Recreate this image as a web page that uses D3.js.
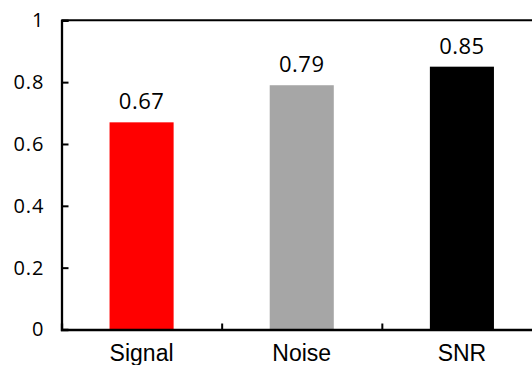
<!DOCTYPE html>
<html>
<head>
<meta charset="utf-8">
<script src="https://cdn.jsdelivr.net/npm/d3@7"></script>
<style>
  html, body { margin: 0; padding: 0; background: #fff; }
  svg { display: block; }
</style>
</head>
<body>
<svg id="chart" width="532" height="365"></svg>
<script>
// Chart data
const categories = ["Signal", "Noise", "SNR"];
const values = [0.67, 0.79, 0.85];
const barColors = ["#FF0000", "#A6A6A6", "#000000"];
const yTickValues = [0, 0.2, 0.4, 0.6, 0.8, 1];
const yTickLabels = ["0", "0.2", "0.4", "0.6", "0.8", "1"];

const svg = d3.select("#chart");

// Plot frame (the right edge lies beyond the visible area)
const plotLeft = 61.5, plotRight = 542, plotTop = 20.3, plotBottom = 329.5;

const x = d3.scaleBand()
  .domain(categories)
  .range([plotLeft, plotRight])
  .paddingInner(0.6)
  .paddingOuter(0.3);

const y = d3.scaleLinear().domain([0, 1]).range([plotBottom, plotTop]);

// Category boundaries for the x-axis tick marks
const xEdge = d3.scaleLinear().domain([0, categories.length]).range([plotLeft, plotRight]);

// Bars
svg.append("g")
  .selectAll("rect")
  .data(values)
  .join("rect")
  .attr("x", (d, i) => x(categories[i]))
  .attr("y", d => y(d))
  .attr("width", x.bandwidth())
  .attr("height", d => y(0) - y(d))
  .attr("fill", (d, i) => barColors[i]);

// Value labels
svg.append("g")
  .selectAll("text")
  .data(values)
  .join("text")
  .attr("x", (d, i) => x(categories[i]) + x.bandwidth() / 2)
  .attr("y", d => y(d) - 13)
  .attr("text-anchor", "middle")
  .attr("font-family", "'Open Sans', sans-serif")
  .attr("font-size", 22)
  .attr("letter-spacing", 0.5)
  .attr("fill", "#000")
  .text(d => d.toFixed(2));

// Top frame line
svg.append("line")
  .attr("x1", plotLeft).attr("x2", plotRight)
  .attr("y1", y(1)).attr("y2", y(1))
  .attr("stroke", "#000").attr("stroke-width", 2);

// Y axis with inward ticks
const yAxis = svg.append("g")
  .attr("transform", `translate(${plotLeft},0)`)
  .call(d3.axisLeft(y)
    .tickValues(yTickValues)
    .tickFormat((d, i) => yTickLabels[i])
    .tickSize(-7)
    .tickPadding(17));
yAxis.select(".domain").attr("stroke", "#000").attr("stroke-width", 2.3);
yAxis.selectAll(".tick line").attr("stroke", "#000").attr("stroke-width", 2);
yAxis.selectAll(".tick text")
  .attr("font-family", "'Open Sans', sans-serif")
  .attr("font-size", 20)
  .attr("letter-spacing", 1)
  .attr("fill", "#000");

// X axis: boundary tick marks pointing up
const xTicks = svg.append("g")
  .attr("transform", `translate(0,${plotBottom})`)
  .call(d3.axisBottom(xEdge)
    .tickValues(d3.range(categories.length + 1))
    .tickSize(-6)
    .tickFormat(""));
xTicks.select(".domain").attr("stroke", "#000").attr("stroke-width", 2.3);
xTicks.selectAll(".tick line").attr("stroke", "#000").attr("stroke-width", 2);

// X axis: category labels
const xLabels = svg.append("g")
  .attr("transform", `translate(0,${plotBottom})`)
  .call(d3.axisBottom(x).tickSize(0).tickPadding(15));
xLabels.select(".domain").remove();
xLabels.selectAll(".tick text")
  .attr("font-family", "'Liberation Sans', Arial, sans-serif")
  .attr("font-size", 23)
  .attr("fill", "#000");
</script>
</body>
</html>
